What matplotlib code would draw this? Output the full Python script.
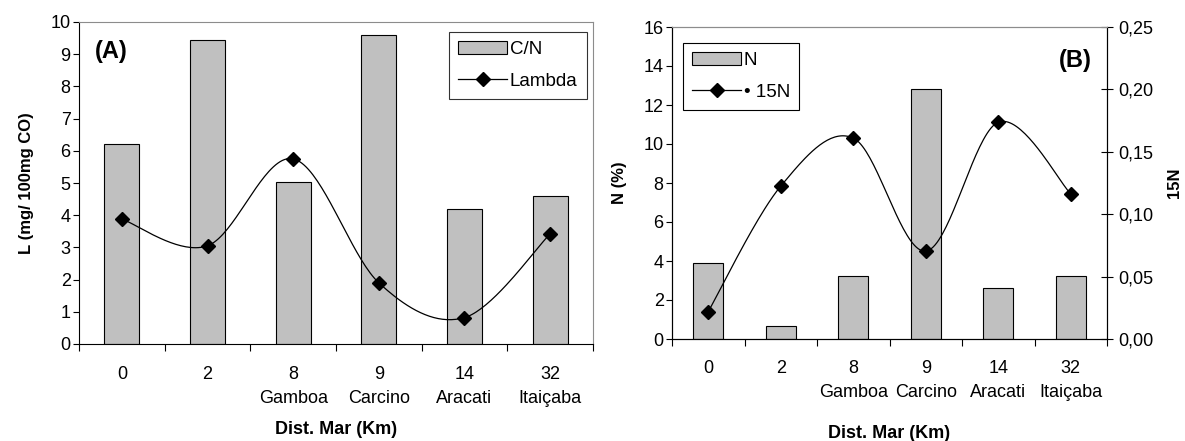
import matplotlib.pyplot as plt
import numpy as np
from matplotlib.ticker import FuncFormatter

plt.rcParams.update({'font.family': 'Liberation Sans', 'font.size': 13})

dist = ["0", "2", "8\nGamboa", "9\nCarcino", "14\nAracati", "32\nItaiçaba"]
cn = [6.2, 9.45, 5.02, 9.6, 4.2, 4.6]
lambda_vals = [3.88, 3.05, 5.75, 1.9, 0.82, 3.42]
n_pct = [3.9, 0.65, 3.22, 12.8, 2.6, 3.22]
d15n = [0.022, 0.1225, 0.161, 0.0704, 0.1737, 0.1163]

bar_col = "#c0c0c0"
grey = "#8c8c8c"


def excel_smooth(x, y, n=40):
    # bezier smoothing like the spreadsheet "smoothed line"
    x = np.asarray(x, float)
    y = np.asarray(y, float)
    px = np.concatenate([[x[0]], x, [x[-1]]])
    py = np.concatenate([[y[0]], y, [y[-1]]])
    xs, ys = [], []
    t = np.linspace(0, 1, n)
    for i in range(len(x) - 1):
        p0 = np.array([px[i + 1], py[i + 1]])
        p3 = np.array([px[i + 2], py[i + 2]])
        p1 = p0 + (np.array([px[i + 2], py[i + 2]]) - np.array([px[i], py[i]])) / 6
        p2 = p3 - (np.array([px[i + 3], py[i + 3]]) - np.array([px[i + 1], py[i + 1]])) / 6
        b = ((1 - t) ** 3)[:, None] * p0 + (3 * (1 - t) ** 2 * t)[:, None] * p1 \
            + (3 * (1 - t) * t ** 2)[:, None] * p2 + (t ** 3)[:, None] * p3
        xs.append(b[:, 0])
        ys.append(b[:, 1])
    return np.concatenate(xs), np.concatenate(ys)


def style_x(ax, pad):
    n = len(dist)
    ax.set_xlim(-0.5, n - 0.5)
    ax.set_xticks(np.arange(-0.5, n, 1.0))
    ax.set_xticklabels([])
    ax.set_xticks(np.arange(n), minor=True)
    ax.set_xticklabels(dist, minor=True, linespacing=1.55, va="top")
    ax.tick_params(axis="x", which="major", direction="out", length=5, width=0.8)
    ax.tick_params(axis="x", which="minor", length=0, pad=pad)
    ax.tick_params(axis="y", direction="out", length=4, width=0.8, pad=2)


x = np.arange(len(dist))
fig = plt.figure(figsize=(11.85, 4.41), dpi=100)

# ---- panel A
ax1 = fig.add_axes([79 / 1185, 97 / 441, 514 / 1185, 322 / 441])
b1 = ax1.bar(x, cn, width=0.41, color=bar_col, edgecolor="black", linewidth=0.8, zorder=2)
sx, sy = excel_smooth(x, lambda_vals)
ax1.plot(sx, sy, color="black", lw=0.9, zorder=3)
ax1.plot(x, lambda_vals, ls="none", marker="D", ms=7, color="black", zorder=4)
lh1, = ax1.plot([], [], "-D", color="black", lw=0.9, ms=7)
ax1.set_ylim(0, 10)
ax1.set_yticks(range(0, 11))
style_x(ax1, 16)
for s in ["top", "right"]:
    ax1.spines[s].set_color(grey)
ax1.set_ylabel("L (mg/ 100mg CO)", fontweight="bold", fontsize=12, labelpad=12)
ax1.set_xlabel("Dist. Mar (Km)", fontweight="bold", fontsize=13, labelpad=10)
ax1.text(0.03, 0.945, "(A)", transform=ax1.transAxes, fontsize=17, fontweight="bold", va="top")
leg1 = ax1.legend([b1, lh1], ["C/N", "Lambda"], loc="upper right", bbox_to_anchor=(0.988, 0.969),
                  borderaxespad=0, frameon=True, fancybox=False, edgecolor="black",
                  handlelength=2.6, borderpad=0.5, labelspacing=0.75, handletextpad=0.15,
                  fontsize=13.5)
leg1.get_frame().set_linewidth(0.8)

# ---- panel B
ax2 = fig.add_axes([672 / 1185, 102 / 441, 435 / 1185, 312 / 441])
b2 = ax2.bar(x, n_pct, width=0.41, color=bar_col, edgecolor="black", linewidth=0.8, zorder=2)
ax2.set_ylim(0, 16)
ax2.set_yticks(range(0, 17, 2))
style_x(ax2, 15)
ax2.spines["top"].set_color(grey)
ax2.set_ylabel("N (%)", fontweight="bold", fontsize=12, labelpad=12)
ax2.set_xlabel("Dist. Mar (Km)", fontweight="bold", fontsize=13, labelpad=17)

ax3 = ax2.twinx()
sx, sy = excel_smooth(x, d15n)
ax3.plot(sx, sy, color="black", lw=0.9, zorder=3)
ax3.plot(x, d15n, ls="none", marker="D", ms=7, color="black", zorder=4)
lh2, = ax3.plot([], [], "-D", color="black", lw=0.9, ms=7)
ax3.set_ylim(0, 0.25)
ax3.set_yticks(np.arange(0, 0.26, 0.05))
ax3.yaxis.set_major_formatter(FuncFormatter(lambda v, p: f"{v:.2f}".replace(".", ",")))
ax3.tick_params(axis="y", direction="inout", length=8, width=0.8, pad=4)
ax3.spines["top"].set_color(grey)
ax3.set_ylabel("15N", fontweight="bold", fontsize=12, labelpad=10)
ax2.text(0.965, 0.93, "(B)", transform=ax2.transAxes, fontsize=17, fontweight="bold", va="top", ha="right")

leg2 = ax3.legend([b2, lh2], ["N", "• 15N"], loc="upper left", bbox_to_anchor=(0.025, 0.949),
                  borderaxespad=0, frameon=True, fancybox=False, edgecolor="black",
                  handlelength=2.6, borderpad=0.5, labelspacing=0.75, handletextpad=0.15,
                  fontsize=13.5, framealpha=1)
leg2.get_frame().set_linewidth(0.8)

fig.savefig("out.png", dpi=100)
